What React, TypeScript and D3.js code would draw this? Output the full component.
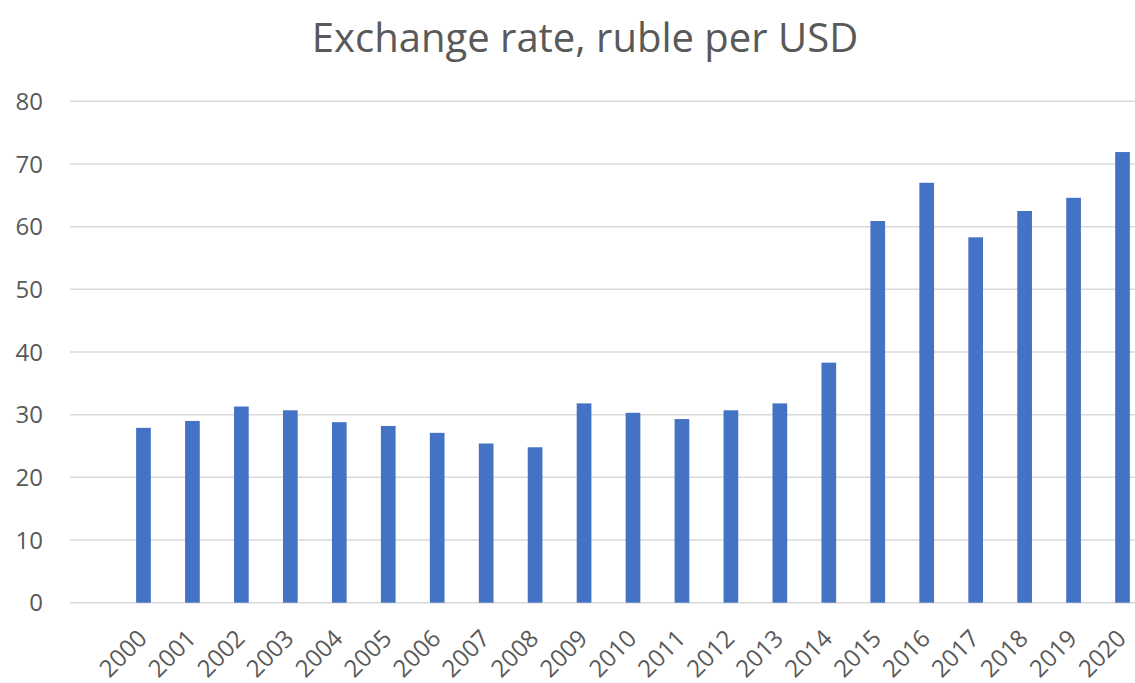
import React, { useEffect, useRef } from "react";
import * as d3 from "d3";

const years = ["2000","2001","2002","2003","2004","2005","2006","2007","2008","2009","2010","2011","2012","2013","2014","2015","2016","2017","2018","2019","2020"];
const rates = [27.9, 29.0, 31.3, 30.7, 28.8, 28.2, 27.1, 25.4, 24.8, 31.8, 30.3, 29.3, 30.7, 31.8, 38.3, 60.9, 67.0, 58.3, 62.5, 64.6, 71.9];
const yTicks = [0, 10, 20, 30, 40, 50, 60, 70, 80];
const title = "Exchange rate, ruble per USD";

const W = 1135;
const H = 683;

export default function App() {
  const ref = useRef<SVGSVGElement | null>(null);

  useEffect(() => {
    document.body.style.margin = "0";
    const svg = d3.select(ref.current);
    svg.selectAll("*").remove();

    const font = "'Open Sans', 'Noto Sans', sans-serif";
    const textColor = "#595959";

    const x = d3.scaleBand<string>().domain(years).range([119, 1147]).paddingInner(0.7).paddingOuter(0.35);
    const y = d3.scaleLinear().domain([0, 80]).range([602.7, 101.3]);

    svg.append("rect").attr("width", W).attr("height", H).attr("fill", "#ffffff");

    svg.append("text")
      .attr("x", 585).attr("y", 52)
      .attr("text-anchor", "middle")
      .attr("font-family", font)
      .attr("font-size", 40)
      .attr("fill", textColor)
      .text(title);

    const grid = svg.append("g");
    grid.selectAll("line").data(yTicks).join("line")
      .attr("x1", 70).attr("x2", W)
      .attr("y1", d => y(d)).attr("y2", d => y(d))
      .attr("stroke", "#d9d9d9").attr("stroke-width", 1.5);

    svg.append("g").selectAll("text").data(yTicks).join("text")
      .attr("x", 43).attr("y", d => y(d))
      .attr("dy", "0.36em")
      .attr("text-anchor", "end")
      .attr("font-family", font)
      .attr("font-size", 24)
      .attr("fill", textColor)
      .text(d => String(d));

    svg.append("g").selectAll("rect").data(years).join("rect")
      .attr("x", d => x(d) as number)
      .attr("width", x.bandwidth())
      .attr("y", (d, i) => y(rates[i]))
      .attr("height", (d, i) => y(0) - y(rates[i]))
      .attr("fill", "#4472C4");

    svg.append("g").selectAll("text").data(years).join("text")
      .attr("transform", d => `translate(${(x(d) as number) + x.bandwidth() / 2 - 1},${634}) rotate(-45)`)
      .attr("text-anchor", "end")
      .attr("dy", "0.35em")
      .attr("font-family", font)
      .attr("font-size", 24)
      .attr("fill", textColor)
      .text(d => d);
  }, []);

  return <svg ref={ref} width={W} height={H} style={{ display: "block" }} />;
}
